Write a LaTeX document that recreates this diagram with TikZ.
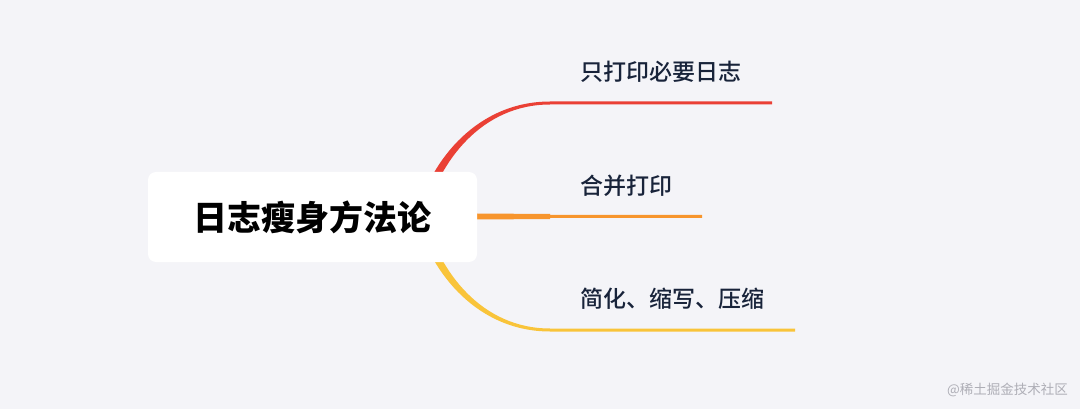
\documentclass[tikz,border=0pt]{standalone}
\usepackage{fontspec}
\newfontfamily\cjk{Noto Sans CJK SC}
\newfontfamily\cjkm{Noto Sans CJK SC Medium}
\definecolor{bg}{HTML}{F4F4F8}
\definecolor{cred}{HTML}{EA4035}
\definecolor{corange}{HTML}{F7952D}
\definecolor{cyellow}{HTML}{F9C43A}
\definecolor{ctext}{HTML}{18233A}
\definecolor{cmark}{HTML}{AEAEB6}
\pgfdeclarelayer{bgfill}
\pgfdeclarelayer{branches}
\pgfsetlayers{bgfill,branches,main}
\tikzset{
  root/.style={fill=white, rounded corners=8pt, minimum width=329pt, minimum height=90pt, inner sep=0pt,
    font=\cjk\bfseries\fontsize{34}{40}\selectfont, text=black},
  leaf/.style={anchor=west, inner sep=0pt, font=\cjkm\fontsize{23}{27}\selectfont, text=ctext},
}
\begin{document}
\begin{tikzpicture}[x=1pt,y=-1pt]
\begin{pgfonlayer}{bgfill}
\fill[bg] (0,0) rectangle (1080,409);
\end{pgfonlayer}
\useasboundingbox (0,0) rectangle (1080,409);
% central node
\node[root] (root) at (312.5,217) {日志瘦身方法论};
% leaves
\node[leaf] (a) at (580,72) {只打印必要日志};
\node[leaf] (b) at (580,186) {合并打印};
\node[leaf] (c) at (580,298.5) {简化、缩写、压缩};
% branch end points
\coordinate (r1) at (772,103);
\coordinate (o1) at (702,216.5);
\coordinate (y1) at (795,330);
\begin{pgfonlayer}{branches}
% red branch (tapered curve, then thin rule under the label)
\fill[cred] (416,216.5) .. controls (431,158) and (479,101.5) .. (550,101.5)
  -- (r1 |- 0,101.5) -- (r1 |- 0,104.5) -- (550,104.5)
  .. controls (482,104.5) and (439,161) .. (425,216.5) -- cycle;
% yellow branch (mirror image)
\fill[cyellow] (416,216.5) .. controls (431,275) and (479,331.5) .. (550,331.5)
  -- (y1 |- 0,331.5) -- (y1 |- 0,328.5) -- (550,328.5)
  .. controls (482,328.5) and (439,272) .. (425,216.5) -- cycle;
% orange branch
\fill[corange] (root.east |- 0,213.5) -- (550,214) -- (550,215) -- (o1 |- 0,215)
  -- (o1 |- 0,218) -- (550,218) -- (550,219) -- (root.east |- 0,219.5) -- cycle;
\fill[corange] (root.center |- 0,213.5) rectangle (root.east |- 0,219.5);
\end{pgfonlayer}
% watermark
\node[anchor=east, inner sep=0pt, font=\cjk\fontsize{13.5}{16}\selectfont, text=cmark] (wm) at (1068,390) {@稀土掘金技术社区};
\end{tikzpicture}
\end{document}
